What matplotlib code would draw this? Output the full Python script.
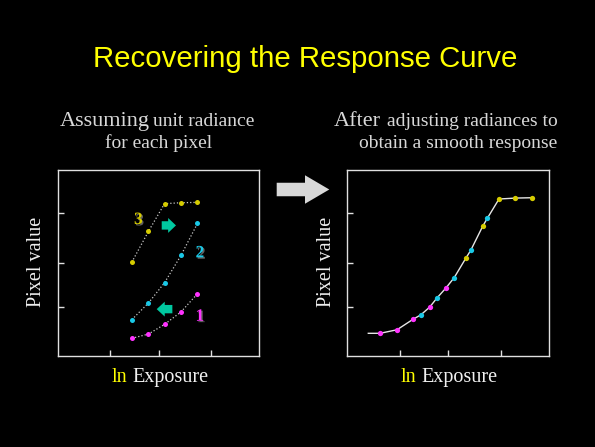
import matplotlib
matplotlib.use("Agg")
import matplotlib.pyplot as plt
import matplotlib.patheffects as pe
from matplotlib.patches import FancyArrow
import numpy as np

# exposure positions of the five images (left panel, unit radiance)
exposure_left = [3.67, 4.50, 5.30, 6.12, 6.94]
pix1_left = [0.95, 1.18, 1.70, 2.37, 3.35]
pix2_left = [1.95, 2.85, 3.94, 5.41, 7.13]
pix3_left = [5.04, 6.70, 8.19, 8.24, 8.26]

# after adjusting radiances (right panel)
exp1_right = [1.62, 2.46, 3.25, 4.08, 4.87]
pix1_right = [1.22, 1.41, 1.97, 2.63, 3.64]
exp2_right = [3.65, 4.44, 5.29, 6.11, 6.93]
pix2_right = [2.22, 3.12, 4.21, 5.68, 7.40]
exp3_right = [5.88, 6.70, 7.51, 8.32, 9.14]
pix3_right = [5.28, 6.97, 8.44, 8.49, 8.51]
curve_start = (1.04, 1.22)

xticks = [2.6, 5.0, 7.6]
yticks = [2.63, 5.0, 7.69]

MAG = '#ff33ff'
CYA = '#19c8e6'
YEL = '#d6cc00'
TEAL = '#00c8a0'
TXT = '#d8d8d8'

fig = plt.figure(figsize=(5.95, 4.47), dpi=100, facecolor='black')
W, H = 595.0, 447.0


def px(x, y):
    return x / W, 1 - y / H


def setup(ax):
    ax.set_facecolor('black')
    ax.set_xlim(0, 10)
    ax.set_ylim(0, 10)
    ax.set_xticks(xticks)
    ax.set_yticks(yticks)
    ax.set_xticklabels([])
    ax.set_yticklabels([])
    ax.tick_params(direction='in', length=4, width=1, color='#e0e0e0')
    for s in ax.spines.values():
        s.set_color('#e0e0e0')
        s.set_linewidth(1)


axL = fig.add_axes([58 / W, 1 - 356 / H, 201 / W, 186 / H])
axR = fig.add_axes([347.3 / W, 1 - 356 / H, 202 / W, 186 / H])
setup(axL)
setup(axR)

# left panel
for ys, c in [(pix1_left, MAG), (pix2_left, CYA), (pix3_left, YEL)]:
    axL.plot(exposure_left, ys, ':', color='#c8c8c8', lw=0.9, zorder=1)
    axL.plot(exposure_left, ys, 'o', color=c, ms=3.6, mec='none', zorder=2)

shadow = [pe.withSimplePatchShadow(offset=(1, -1), shadow_rgbFace='#606060', alpha=1)]
for lbl, x, y, c in [('3', 4.0, 7.31, YEL), ('2', 7.06, 5.52, CYA), ('1', 7.06, 2.11, MAG)]:
    axL.text(x, y, lbl, color=c, fontsize=12.5, fontweight='bold', family='Liberation Serif',
             ha='center', va='center', path_effects=shadow)

axL.add_patch(FancyArrow(5.16, 7.02, 0.71, 0, width=0.45, head_width=0.80, head_length=0.39,
                         length_includes_head=True, color=TEAL, lw=0))
axL.add_patch(FancyArrow(5.69, 2.52, -0.78, 0, width=0.45, head_width=0.80, head_length=0.40,
                         length_includes_head=True, color=TEAL, lw=0))

# right panel
allx = np.array(exp1_right + exp2_right + exp3_right)
ally = np.array(pix1_right + pix2_right + pix3_right)
order = np.argsort(allx)
cx = np.concatenate([[curve_start[0]], allx[order]])
cy = np.concatenate([[curve_start[1]], ally[order]])
axR.plot(cx, cy, '-', color='#e6e6e6', lw=1, zorder=1)
for xs, ys, c in [(exp1_right, pix1_right, MAG), (exp2_right, pix2_right, CYA),
                  (exp3_right, pix3_right, YEL)]:
    axR.plot(xs, ys, 'o', color=c, ms=3.8, mec='none', zorder=2)

# big gray arrow between panels
fig.patches.append(FancyArrow(2.767, (H - 189.5) / 100, 0.526, 0, width=0.135, head_width=0.285,
                              head_length=0.243, length_includes_head=True, color='#d8d8d8',
                              lw=0, transform=fig.dpi_scale_trans))

# title
fig.text(*px(305, 67.3), 'Recovering the Response Curve', color='#ffff00', fontsize=21.2,
         family='Liberation Sans', ha='center', va='baseline')

serif = 'Liberation Serif'
fig.text(*px(59.3, 125.7), 'Assuming', color=TXT, fontsize=16, family=serif, va='baseline')
fig.text(*px(152.7, 125.7), 'unit radiance', color=TXT, fontsize=14, family=serif, va='baseline')
fig.text(*px(158.3, 147.7), 'for each pixel', color=TXT, fontsize=14, family=serif,
         ha='center', va='baseline')
fig.text(*px(333.3, 125.7), 'After', color=TXT, fontsize=16, family=serif, va='baseline')
fig.text(*px(557.3, 125.7), 'adjusting radiances to', color=TXT, fontsize=14, family=serif,
         ha='right', va='baseline')
fig.text(*px(557.3, 147.7), 'obtain a smooth response', color=TXT, fontsize=14, family=serif,
         ha='right', va='baseline')

# axis labels
for lx, ex in [(112, 132), (401, 421)]:
    fig.text(*px(lx, 381.7), 'ln', color='#ffff00', fontsize=14.5, family=serif, va='baseline')
    fig.text(*px(ex, 381.7), 'Exposure', color='#f0f0f0', fontsize=14.5, family=serif, va='baseline')
for cxp in [36.5, 326]:
    fig.text(*px(cxp, 262), 'Pixel value', color='#f0f0f0', fontsize=14.5, family=serif,
             rotation=90, ha='center', va='center')

fig.savefig('out.png', dpi=100, facecolor='black')
